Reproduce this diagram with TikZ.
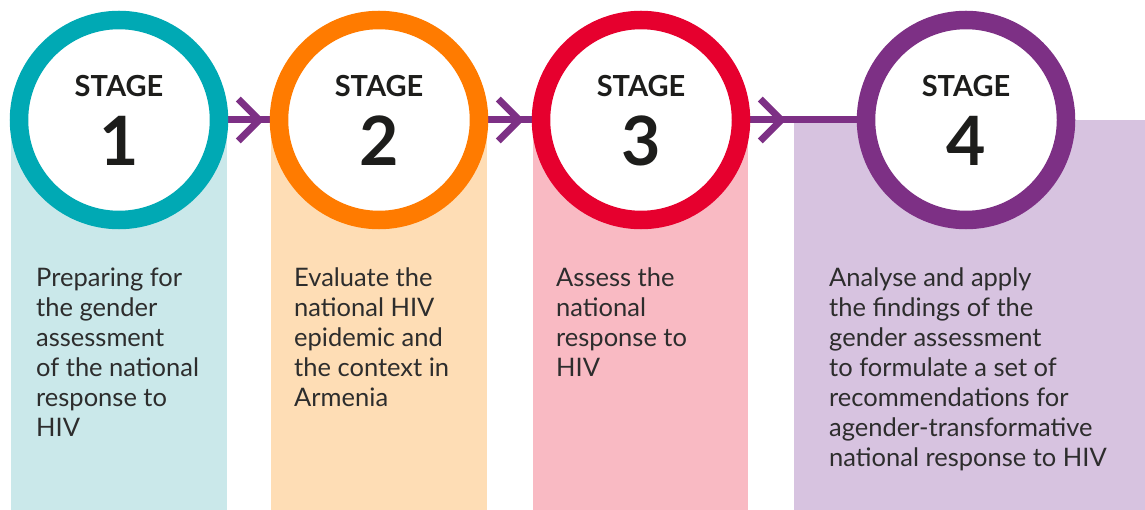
\documentclass[tikz,border=0pt]{standalone}
\usepackage{fontspec}
\setmainfont{Lato}
\usetikzlibrary{calc}
\definecolor{teal}{HTML}{00A9B4}
\definecolor{tealL}{HTML}{CAE8EA}
\definecolor{orng}{HTML}{FF7B00}
\definecolor{orngL}{HTML}{FEDDB5}
\definecolor{redc}{HTML}{E6002E}
\definecolor{redL}{HTML}{F9BAC3}
\definecolor{purp}{HTML}{7D3085}
\definecolor{purpL}{HTML}{D7C3E0}
\definecolor{headtext}{HTML}{1D1D1B}
\definecolor{bodytext}{HTML}{2D2D2D}
\begin{document}
\begin{tikzpicture}[x=1pt,y=-1pt,
 ring/.style={circle,draw,line width=18.5pt,fill=white,minimum size=200pt,inner sep=0pt},
 panel/.style={anchor=north west,inner sep=0pt,minimum height=390pt},
 flow/.style={draw=purp,line width=7pt},
 chev/.style={draw=purp,line width=7pt,line join=miter},
 stagelbl/.style={font=\bfseries\fontsize{29}{29}\selectfont,text=headtext,inner sep=0pt},
 numlbl/.style={font=\bfseries\fontsize{68}{68}\selectfont,text=headtext,inner sep=0pt},
 desc/.style={anchor=base west,align=left,inner sep=0pt,font=\fontsize{25.5}{30}\selectfont,text=bodytext}]
\useasboundingbox (0,0) rectangle (1145,510);
% panels
\node[panel,fill=tealL,minimum width=216pt] (p1) at (11,120) {};
\node[panel,fill=orngL,minimum width=216pt] (p2) at (271,120) {};
\node[panel,fill=redL,minimum width=215pt] (p3) at (533,120) {};
\node[panel,fill=purpL,minimum width=351pt] (p4) at (794,120) {};
% coordinates for circle centres
\coordinate (k1) at (119,120);
\coordinate (k2) at (379,120);
\coordinate (k3) at (641,120);
\coordinate (k4) at (966,120);
% connector lines
\draw[flow] (k1) -- (k2);
\draw[flow] (k2) -- (k3);
\draw[flow] (k3) -- (k4);
% circles
\node[ring,draw=teal] (c1) at (k1) {};
\node[ring,draw=orng] (c2) at (k2) {};
\node[ring,draw=redc] (c3) at (k3) {};
\node[ring,draw=purp] (c4) at (k4) {};
% chevrons
\foreach \i in {1,2,3}{
  \draw[chev] ($(c\i.east)+(10,-21)$) -- ($(c\i.east)+(31,0)$) -- ($(c\i.east)+(10,21)$);
}
% labels
\foreach \i in {1,2,3,4}{
  \node[stagelbl,anchor=base] (s\i) at ($(c\i.center)+(0,-23)$) {STAGE};
  \node[numlbl,anchor=base] (n\i) at ($(c\i.center)+(0,46)$) {\i};
}
% descriptions (anchored at the baseline of the last line)
\node[desc] (d1) at (36,436) {Preparing for\\the gender\\assessment\\of the national\\response to\\HIV};
\node[desc] (d2) at (294,406) {Evaluate the\\national HIV\\epidemic and\\the context in\\Armenia};
\node[desc] (d3) at (556,376) {Assess the\\national\\response to\\HIV};
\node[desc] (d4) at (829,466) {Analyse and apply\\the findings of the\\gender assessment\\to formulate a set of\\recommendations for\\agender-transformative\\national response to HIV};
\end{tikzpicture}
\end{document}
